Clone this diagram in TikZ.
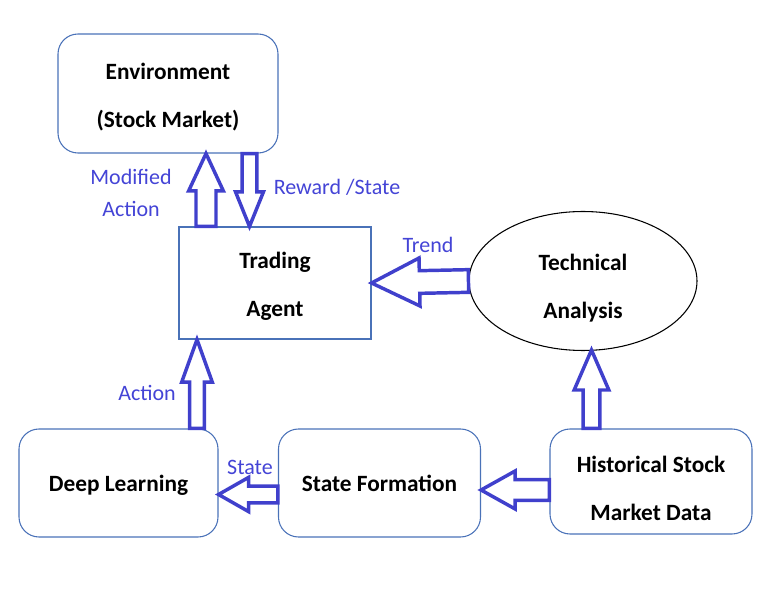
\documentclass[tikz,border=0pt]{standalone}
\usepackage{fontspec}
\setmainfont{Carlito}
\usepackage{tikz}
\usetikzlibrary{shapes,arrows,calc}

\begin{document}
\begin{tikzpicture}[x=0.75pt,y=0.75pt,yscale=-1,xscale=1,
  shaftw/.store in=\shaftw, headw/.store in=\headw, headl/.store in=\headl,
  shaftw=6pt, headw=13pt, headl=28pt,
  blockarrow/.style={draw={rgb, 255:red, 64; green, 64; blue, 204}, line width=2.6pt, line join=miter,
    fill=white, to path={
      ($(\tikztostart)!\shaftw!90:(\tikztotarget)$)
      -- ($(\tikztotarget)!\headl!(\tikztostart)!\shaftw!90:(\tikztotarget)$)
      -- ($(\tikztotarget)!\headl!(\tikztostart)!\headw!90:(\tikztotarget)$)
      -- (\tikztotarget)
      -- ($(\tikztotarget)!\headl!(\tikztostart)!\headw!-90:(\tikztotarget)$)
      -- ($(\tikztotarget)!\headl!(\tikztostart)!\shaftw!-90:(\tikztotarget)$)
      -- ($(\tikztostart)!\shaftw!-90:(\tikztotarget)$) -- cycle}},
  roundbox/.style={draw={rgb, 255:red, 74; green, 114; blue, 184}, line width=0.8pt, rounded corners=15pt,
    inner sep=0pt, align=center, font=\bfseries\fontsize{17.5}{36}\selectfont},
  plainbox/.style={roundbox, rounded corners=0pt},
  bluelabel/.style={text={rgb, 255:red, 68; green, 68; blue, 214}, inner sep=0.75pt, align=center,
    font=\fontsize{16.5}{24}\selectfont}]
\useasboundingbox (0,0) rectangle (783,609);

%Shape: Rounded Rect [id:env]
\node[roundbox, minimum width=165pt, minimum height=89.25pt] (env) at (168,93.5) {\rule{0pt}{17.3pt}Environment\\(Stock Market)};
%Shape: Rectangle [id:agent]
\node[plainbox, minimum width=144pt, minimum height=84pt] (agent) at (275,283) {\rule{0pt}{16.8pt}Trading\\Agent};
%Shape: Ellipse [id:tech]
\node[ellipse, draw, line width=0.8pt, inner sep=0pt, align=center, minimum width=171pt, minimum height=104.25pt,
  font=\bfseries\fontsize{17.5}{36}\selectfont] (tech) at (583,281) {\rule{0pt}{22.3pt}Technical\\Analysis};
%Shape: Rounded Rect [id:dl]
\node[roundbox, minimum width=149.25pt, minimum height=81pt] (dl) at (118.5,483) {\rule{0pt}{15.8pt}Deep Learning};
%Shape: Rounded Rect [id:sf]
\node[roundbox, minimum width=151.5pt, minimum height=81pt] (sf) at (379.5,483) {State Formation};
%Shape: Rounded Rect [id:hist]
\node[roundbox, minimum width=151.5pt, minimum height=78.75pt] (hist) at (651,481.5) {\rule{0pt}{23.3pt}Historical Stock\\Market Data};

%Block Arrows
\draw[blockarrow, shaftw=7.5pt, headw=13pt, headl=28pt] (206,0 |- agent.north) to (206,0 |- env.south);
\draw[blockarrow, shaftw=5.6pt, headw=10.5pt, headl=26pt] (249.5,0 |- env.south) to (249.5,0 |- agent.north);
\draw[blockarrow, shaftw=8.5pt, headw=18pt, headl=36pt] (tech.west) to (agent.east);
\draw[blockarrow, shaftw=5.6pt, headw=11.5pt, headl=32pt] (197,0 |- dl.north) to (197,0 |- agent.south);
\draw[blockarrow, shaftw=6.3pt, headw=12.8pt, headl=22.5pt] (sf.west |- 0,494.5) to (dl.east |- 0,494.5);
\draw[blockarrow, shaftw=7.8pt, headw=14.2pt, headl=25.5pt] (hist.west |- 0,490) to (sf.east |- 0,490);
\draw[blockarrow, shaftw=6.3pt, headw=13pt, headl=30pt] (591.5,0 |- hist.north) to (591.5,350);

% Text Node
\node[bluelabel] (modact) at (131,193) {Modified\\Action};
% Text Node
\node[bluelabel] (rewstate) at (337,187) {Reward /State};
% Text Node
\node[bluelabel] (trend) at (428,245) {Trend};
% Text Node
\node[bluelabel] (act) at (147,393) {Action};
% Text Node
\node[bluelabel] (state) at (250,467) {State};

\end{tikzpicture}
\end{document}
